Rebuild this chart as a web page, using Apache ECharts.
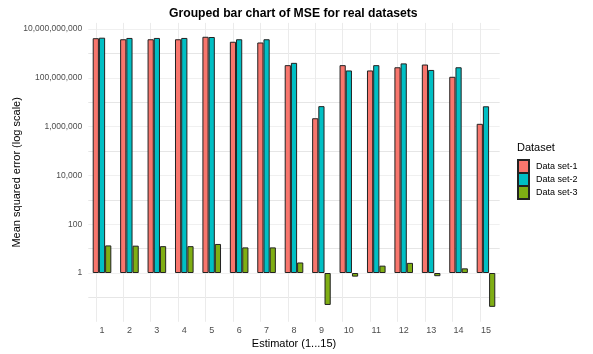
<!DOCTYPE html>
<html>
<head>
<meta charset="utf-8">
<script src="https://cdn.jsdelivr.net/npm/echarts@6/dist/echarts.min.js"></script>
<style>
  html, body { margin: 0; padding: 0; background: #fff; }
  #chart { width: 593px; height: 354px; }
</style>
</head>
<body>
<div id="chart"></div>
<script>
// estimators 1..15
const estimators = ['1','2','3','4','5','6','7','8','9','10','11','12','13','14','15']
// MSE values
const dataSet1 = [4.2e9, 3.8e9, 3.8e9, 3.8e9, 4.8e9, 3.0e9, 2.8e9, 3.3e8, 2.2e6, 3.3e8, 2.0e8, 2.7e8, 3.5e8, 1.1e8, 1.3e6]
const dataSet2 = [4.4e9, 4.3e9, 4.3e9, 4.3e9, 4.7e9, 3.8e9, 3.8e9, 4.1e8, 6.9e6, 2.0e8, 3.3e8, 3.9e8, 2.1e8, 2.7e8, 6.8e6]
const dataSet3 = [13.5, 13.2, 12.6, 12.6, 15.5, 11.2, 11.2, 2.7, 0.049, 0.71, 2.0, 2.6, 0.74, 1.55, 0.041]
const seriesNames = ['Data set-1', 'Data set-2', 'Data set-3']
const colors = ['#F8766D', '#00BFC4', '#7FAE14']

const font = 'Liberation Sans, Arial, sans-serif'
const chart = echarts.init(document.getElementById('chart'))

function toLog(arr) {
  return arr.map(v => Math.log10(v))
}

function fmtTick(v) {
  // only even decades get a label, like the original
  if (v < 0 || Math.abs(v - Math.round(v)) > 1e-6 || Math.round(v) % 2 !== 0) return ''
  return Math.pow(10, Math.round(v)).toLocaleString('en-US')
}

const bars = [dataSet1, dataSet2, dataSet3].map((d, i) => ({
  name: seriesNames[i],
  type: 'bar',
  data: toLog(d),
  barWidth: 6.2,
  barGap: '0%',
  itemStyle: { color: colors[i], borderColor: '#222', borderWidth: 1 },
  animation: false
}))

// vertical grid lines sit on category centres in the original
bars[0].markLine = {
  silent: true,
  symbol: 'none',
  z: 1,
  label: { show: false },
  lineStyle: { color: '#ebebeb', width: 1, type: 'solid' },
  data: estimators.map(e => ({ xAxis: e })),
  animation: false
}

chart.setOption({
  backgroundColor: '#fff',
  title: [{
    text: 'Grouped bar chart of MSE for real datasets',
    left: 164, top: 3,
    textStyle: { fontFamily: font, fontSize: 12.2, fontWeight: 'bold', color: '#000' }
  }, {
    text: 'Dataset',
    left: 512, top: 137,
    textStyle: { fontFamily: font, fontSize: 11, fontWeight: 'normal', color: '#000' }
  }],
  legend: {
    orient: 'vertical',
    left: 517, top: 159,
    padding: 0,
    itemWidth: 11, itemHeight: 13, itemGap: -2,
    icon: 'rect',
    data: seriesNames,
    textStyle: { fontFamily: font, fontSize: 9, color: '#000', lineHeight: 13, padding: [0, 0, 0, 2] }
  },
  grid: { left: 88.3, right: 93.3, top: 22.9, bottom: 32.2, outerBoundsMode: 'none', containLabel: false },
  xAxis: {
    type: 'category',
    data: estimators,
    name: 'Estimator (1...15)',
    nameLocation: 'middle',
    nameGap: 17,
    nameMoveOverlap: false,
    nameTextStyle: { fontFamily: font, fontSize: 11, color: '#000' },
    axisLine: { show: false },
    axisTick: { show: false },
    axisLabel: { fontFamily: font, fontSize: 9, color: '#4d4d4d', margin: 4 },
    splitLine: { show: false }
  },
  yAxis: {
    type: 'value',
    min: -2, max: 10.25, interval: 1,
    name: 'Mean squared error (log scale)',
    nameLocation: 'middle',
    nameGap: 66,
    nameMoveOverlap: false,
    nameTextStyle: { fontFamily: font, fontSize: 11, color: '#000' },
    axisLine: { show: false },
    axisTick: { show: false },
    axisLabel: { fontFamily: font, fontSize: 8.5, color: '#4d4d4d', margin: 6, formatter: fmtTick },
    splitLine: {
      show: true, showMinLine: false, showMaxLine: false,
      lineStyle: { color: ['#e6e6e6', '#f0f0f0'], width: 1 }
    }
  },
  series: bars
})
</script>
</body>
</html>
